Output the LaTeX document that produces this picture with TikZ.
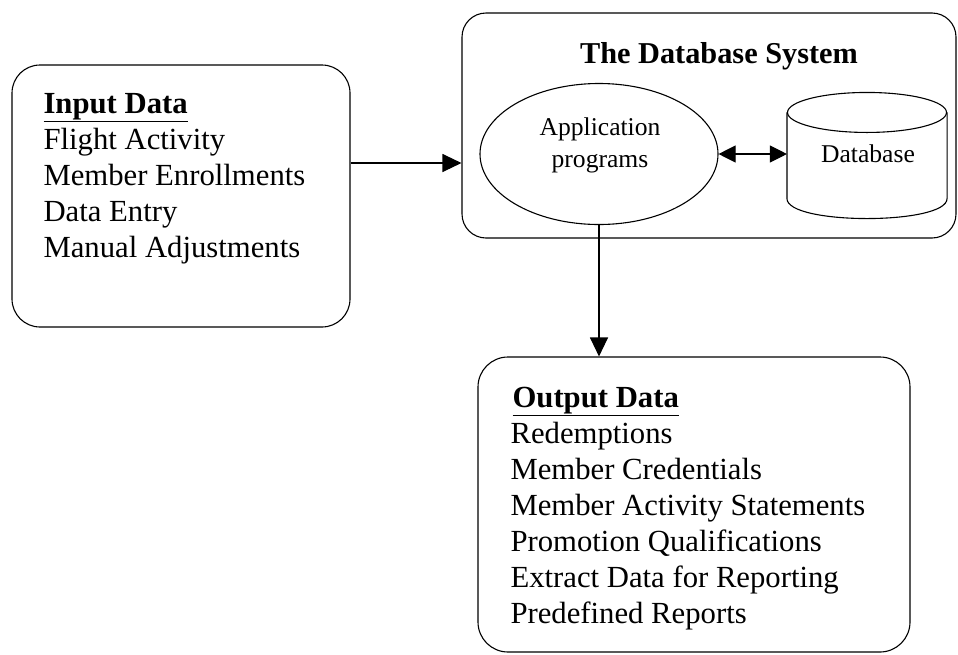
\documentclass[tikz,border=0pt]{standalone}
\usepackage{fontspec}
\setmainfont{Liberation Serif}
\usetikzlibrary{arrows.meta, positioning, shapes.geometric}

\begin{document}
\begin{tikzpicture}[x=1pt, y=-1pt, line width=1.1pt,
    box/.style={draw, rounded corners=28pt, inner sep=0pt},
    item/.style={anchor=base west, inner sep=0pt, font=\fontsize{30.7}{36}\selectfont},
    small/.style={inner sep=0pt, font=\fontsize{25.6}{32}\selectfont},
    arr/.style={-{Triangle[length=19pt, width=18pt]}}]
  \useasboundingbox (0,0) rectangle (958,654);

  % Input box
  \node[box, minimum width=338pt, minimum height=262pt] (input) at (181,196) {};
  \node[item] (inhead) at (43,113) {\underline{\textbf{Input Data}}};
  \foreach \t [count=\i] in {Flight Activity, Member Enrollments, Data Entry, Manual Adjustments}
    \node[item] (in\i) at (43,113+36*\i) {\t};

  % Database system
  \node[box, rounded corners=24pt, minimum width=494pt, minimum height=225pt] (dbsys) at (709,125.5) {};
  \node[anchor=base, inner sep=0pt, font=\fontsize{30.3}{36}\selectfont\bfseries] (title) at (719,63) {The Database System};
  \node[draw, ellipse, minimum width=238pt, minimum height=141pt, inner sep=0pt] (app) at (599,154) {};
  \node[small, align=center, anchor=north] (apptxt) at (600,117) {Application\\programs};

  % Database cylinder
  \node[minimum width=159pt, minimum height=125pt, inner sep=0pt] (db) at (867,155.5) {};
  \draw ([yshift=-20pt]db.north) ellipse [x radius=79.5pt, y radius=20pt];
  \draw ([yshift=-20pt]db.north west) -- ([yshift=20pt]db.south west)
    .. controls ([yshift=-6.67pt]db.south west) and ([yshift=-6.67pt]db.south east) .. ([yshift=20pt]db.south east)
    -- ([yshift=-20pt]db.north east);
  \node[small, anchor=base] (dbtxt) at (868,162) {Database};

  % Output box
  \node[box, rounded corners=30pt, minimum width=432pt, minimum height=295pt] (output) at (694,504.5) {};
  \node[item] (outhead) at (512,407) {\underline{\textbf{Output Data}}};
  \foreach \t [count=\i] in {Redemptions, Member Credentials, Member Activity Statements, Promotion Qualifications, Extract Data for Reporting, Predefined Reports}
    \node[item] (out\i) at (510,407+36*\i) {\t};

  % Connectors
  \coordinate (inlevel) at (0,163);
  \draw[arr] (input.east |- inlevel) -- (dbsys.west |- inlevel);
  \draw[{Triangle[length=17pt, width=17pt]}-{Triangle[length=17pt, width=17pt]}] (app.east) -- (app.east -| db.west);
  \draw[arr] (app.south) -- (app.south |- output.north);
\end{tikzpicture}
\end{document}
